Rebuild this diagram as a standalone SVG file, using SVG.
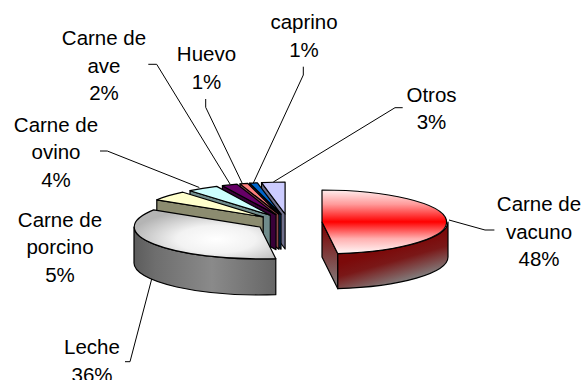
<svg xmlns="http://www.w3.org/2000/svg" width="582" height="380" viewBox="0 0 582 380">
<style>
.s{stroke:#000;stroke-width:1.2;stroke-linejoin:round}
.t{font-family:"Liberation Sans",Arial,sans-serif;font-size:20.5px;fill:#000;text-anchor:middle}
.ld{fill:none;stroke:#000;stroke-width:1}
</style>
<defs>
<linearGradient id="redTop" gradientUnits="userSpaceOnUse" x1="0" y1="190" x2="0" y2="255">
<stop offset="0" stop-color="#ffeeee"/><stop offset="0.22" stop-color="#ff9a9a"/><stop offset="0.49" stop-color="#ff0000"/><stop offset="0.75" stop-color="#ffb0b0"/><stop offset="1" stop-color="#ffffff"/>
</linearGradient>
<linearGradient id="redRim" gradientUnits="userSpaceOnUse" x1="393" y1="248" x2="403" y2="283">
<stop offset="0" stop-color="#7c0a0a"/><stop offset="0.35" stop-color="#7a1818"/><stop offset="1" stop-color="#828282"/>
</linearGradient>
<linearGradient id="redSide" x1="0" y1="0" x2="0" y2="1">
<stop offset="0.1" stop-color="#7c0a0a"/><stop offset="1" stop-color="#828282"/>
</linearGradient>
<radialGradient id="lecheTop" cx="0.58" cy="0.6" r="0.62">
<stop offset="0" stop-color="#ffffff"/><stop offset="0.45" stop-color="#f2f2f2"/><stop offset="1" stop-color="#b4b4b4"/>
</radialGradient>
<linearGradient id="lecheSide" x1="0" y1="0" x2="1" y2="0">
<stop offset="0" stop-color="#5c5c5c"/><stop offset="0.15" stop-color="#6e6e6e"/><stop offset="0.55" stop-color="#8a8a8a"/><stop offset="1" stop-color="#666666"/>
</linearGradient>
</defs>

<g id="otros">
<path class="s" fill="#70708c" d="M285.1,214 L261.5,182.6 L261.5,217.6 L285.1,249 Z"/>
<path class="s" fill="#ccccff" d="M285.1,214 L261.5,182.6 A126,32 0 0 1 285.1,182 Z"/>
</g>
<g id="caprino">
<path class="s" fill="#003870" d="M281,214.2 L249.7,183.2 L249.7,218.2 L281,249.2 Z"/>
<path class="s" fill="#0066cc" d="M281,214.2 L249.7,183.2 A126,32 0 0 1 257.4,182.8 Z"/>
</g>
<g id="huevo">
<path class="s" fill="#8c4646" d="M278.9,214.3 L240,183.9 L240,218.9 L278.9,249.3 Z"/>
<path class="s" fill="#ff8080" d="M278.9,214.3 L240,183.9 A126,32 0 0 1 247.6,183.3 Z"/>
</g>
<g id="ave">
<path class="s" fill="#380038" d="M276,214.6 L222.4,185.7 L222.4,220.7 L276,249.6 Z"/>
<path class="s" fill="#660066" d="M276,214.6 L222.4,185.7 A126,32 0 0 1 237.1,184.2 Z"/>
</g>
<g id="ovino">
<path class="s" fill="#708c8c" d="M270.3,215.3 L190,190.7 L190,225.7 L270.3,250.3 Z"/>
<path class="s" fill="#ccffff" d="M270.3,215.3 L190,190.7 A126,32 0 0 1 216.7,186.4 Z"/>
</g>
<g id="porcino">
<path class="s" fill="#8c8c70" d="M263.2,216.9 L156.8,199.8 L156.8,234.8 L263.2,251.9 Z"/>
<path class="s" fill="#ffffcc" d="M263.2,216.9 L156.8,199.8 A126,32 0 0 1 182.9,192.2 Z"/>
</g>
<g id="leche">
<path class="s" fill="url(#lecheSide)" d="M275.8,258.7 A126,32 0 0 1 134,227 L134,263 A126,32 0 0 0 275.8,294.7 Z"/>
<path class="s" fill="url(#lecheTop)" d="M260,227 L275.8,258.7 A126,32 0 0 1 153.6,209.9 Z"/>
</g>
<g id="vacuno">
<path class="s" fill="url(#redSide)" d="M322,222 L337.8,253.7 L337.8,288.7 L322,257 Z"/>
<path class="s" fill="url(#redRim)" d="M448,222 A126,32 0 0 1 337.8,253.7 L337.8,288.7 A126,32 0 0 0 448,257 Z"/>
<path class="s" fill="url(#redTop)" d="M322,222 L322,190 A126,32 0 0 1 337.8,253.7 Z"/>
</g>

<g id="connectors">
<polyline class="ld" points="148.3,64.3 156.7,64.3 230,184"/>
<polyline class="ld" points="205.7,99 205.7,107.3 242.3,183.5"/>
<polyline class="ld" points="100,151 107.3,151 199.3,187.5"/>
<polyline class="ld" points="303.3,66.7 303.3,75 253.3,183"/>
<polyline class="ld" points="402.7,107.7 395,107.7 273.3,182"/>
<polyline class="ld" points="125,361.7 130,361.7 151.7,279"/>
<polyline class="ld" points="449,220 485,230 494.4,230"/>
</g>

<g id="labels">
<text class="t" x="104" y="45">Carne de</text>
<text class="t" x="104" y="72.5">ave</text>
<text class="t" x="104" y="100">2%</text>
<text class="t" x="206.5" y="61">Huevo</text>
<text class="t" x="206.5" y="88.8">1%</text>
<text class="t" x="304" y="29">caprino</text>
<text class="t" x="304" y="56.5">1%</text>
<text class="t" x="431.5" y="101.5">Otros</text>
<text class="t" x="431.5" y="129">3%</text>
<text class="t" x="56" y="131.5">Carne de</text>
<text class="t" x="56" y="159">ovino</text>
<text class="t" x="56" y="186.5">4%</text>
<text class="t" x="60" y="226.5">Carne de</text>
<text class="t" x="60" y="254">porcino</text>
<text class="t" x="60" y="281.5">5%</text>
<text class="t" x="92" y="354">Leche</text>
<text class="t" x="92" y="381.5">36%</text>
<text class="t" x="539" y="211">Carne de</text>
<text class="t" x="539" y="238.5">vacuno</text>
<text class="t" x="539" y="266">48%</text>
</g>
</svg>
